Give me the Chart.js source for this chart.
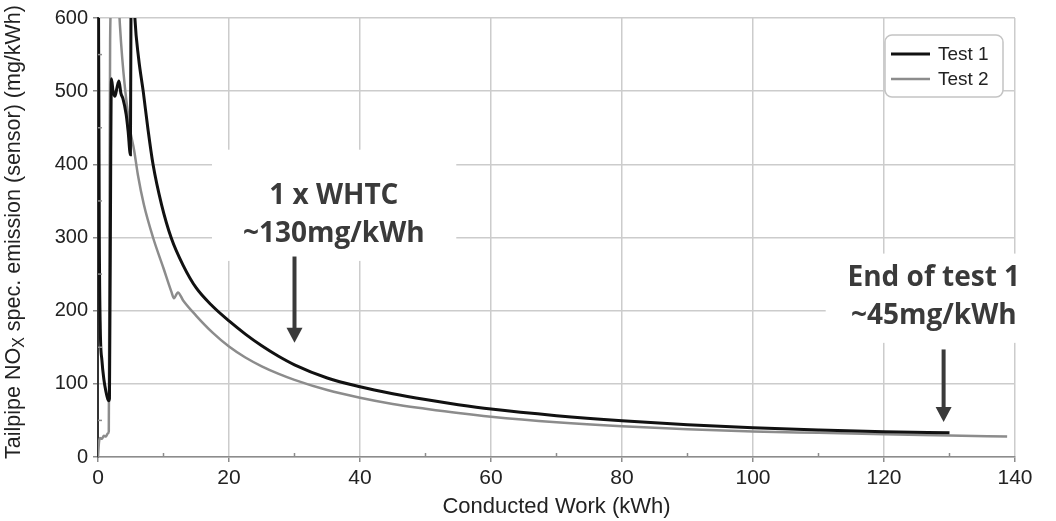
<!DOCTYPE html>
<html>
<head>
<meta charset="utf-8">
<script src="https://cdn.jsdelivr.net/npm/chart.js@4.4.1/dist/chart.umd.min.js"></script>
<style>
  html, body { margin: 0; padding: 0; background: #fff; }
  #wrap { width: 1056px; height: 521px; }
</style>
</head>
<body>
<div id="wrap"><canvas id="noxChart" width="1056" height="521"></canvas></div>
<script>
// values
const test1Work = [0.05, 0.2, 0.35, 0.6, 0.9, 1.2, 1.5, 1.62, 1.75, 1.95, 2.05, 2.3, 2.6, 2.9, 3.2, 3.5, 3.8, 4.3, 4.6, 4.95,
                   5.05, 5.3, 5.6, 6.2, 6.9, 7.6, 8.4, 9.7, 11.2, 13, 15, 17.5, 20, 22.5, 25, 27.5, 30, 35, 40, 45,
                   50, 55, 60, 70, 80, 90, 100, 110, 120, 130];
const test1NOx  = [700, 300, 175, 132, 106, 90, 79, 77, 80, 420, 517, 500, 493, 505, 514, 497, 490, 468, 445, 413,
                   640, 680, 605, 545, 500, 450, 400, 345, 299, 262, 231, 206, 186, 168, 152, 138, 126, 108, 96, 86.5,
                   78.5, 71.5, 65.5, 56.5, 49.5, 44, 40, 37, 34.5, 33];

const test2Work = [0, 0.15, 0.3, 0.6, 0.9, 1.2, 1.5, 1.65, 1.75, 1.85, 2.1, 2.6, 3.0, 3.35, 3.7, 4.1, 4.5, 4.9, 5.5, 6.1,
                   7.0, 8.4, 10, 11.2, 11.6, 12.2, 13, 15, 17.5, 20, 22.5, 25, 27.5, 30, 35, 40, 45, 50, 55, 60,
                   70, 80, 90, 100, 110, 120, 130, 138.8];
const test2NOx  = [0, 20, 26, 25, 29, 28, 32, 35, 300, 570, 640, 680, 650, 590, 545, 506, 475, 447, 420, 385,
                   345, 300, 258, 226, 217, 225, 214, 193, 170, 151, 136, 124, 114, 105.5, 91.5, 81, 72.5, 66, 60, 55,
                   47.5, 42, 38, 35, 33, 31, 29.5, 28];

const seriesNames = ['Test 1', 'Test 2'];
const xTicks = [0, 20, 40, 60, 80, 100, 120, 140];
const yTicks = [0, 100, 200, 300, 400, 500, 600];

const FONT = "'Liberation Sans', Arial, sans-serif";
const NOTE_FONT = "bold 28px 'Open Sans', sans-serif";
const NOTE_COLOR = '#3a3a3a';

function toPoints(xs, ys) {
    return xs.map((x, i) => ({ x: x, y: ys[i] }));
}

// callouts, positioned in data units
const notes = [
    { lines: ['1 x WHTC', '~130mg/kWh'], x: 36, y: [356, 305], box: [17.4, 54.7, 420, 268], arrow: [30, 274, 156] },
    { lines: ['End of test 1', '~45mg/kWh'], x: 127.6, y: [244, 193], box: [111.1, 143.6, 278, 156], arrow: [129.1, 147, 48] }
];

const calloutPlugin = {
    id: 'callouts',
    beforeDatasetsDraw(chart) {
        const ctx = chart.ctx, xs = chart.scales.x, ys = chart.scales.y;
        ctx.save();
        ctx.fillStyle = '#ffffff';
        notes.forEach(n => {
            const l = xs.getPixelForValue(n.box[0]), r = xs.getPixelForValue(n.box[1]);
            const t = ys.getPixelForValue(n.box[2]), b = ys.getPixelForValue(n.box[3]);
            ctx.fillRect(l, t, r - l, b - t);
        });
        ctx.restore();
    },
    afterDatasetsDraw(chart) {
        const ctx = chart.ctx, xs = chart.scales.x, ys = chart.scales.y;
        const area = chart.chartArea;
        ctx.save();

        // minor tick marks
        ctx.strokeStyle = '#8c8c8c';
        ctx.lineWidth = 1.5;
        for (let v = 10; v < 140; v += 20) {
            const px = xs.getPixelForValue(v);
            ctx.beginPath(); ctx.moveTo(px, area.bottom); ctx.lineTo(px, area.bottom - 4); ctx.stroke();
        }
        for (let v = 50; v < 600; v += 100) {
            const py = ys.getPixelForValue(v);
            ctx.beginPath(); ctx.moveTo(area.left, py); ctx.lineTo(area.left + 4, py); ctx.stroke();
        }

        // callout text and arrows
        ctx.font = NOTE_FONT;
        ctx.fillStyle = NOTE_COLOR;
        ctx.strokeStyle = NOTE_COLOR;
        ctx.textAlign = 'center';
        ctx.textBaseline = 'middle';
        notes.forEach(n => {
            const cx = xs.getPixelForValue(n.x);
            n.lines.forEach((s, i) => ctx.fillText(s, cx, ys.getPixelForValue(n.y[i])));
            const ax = xs.getPixelForValue(n.arrow[0]);
            const y0 = ys.getPixelForValue(n.arrow[1]);
            const y1 = ys.getPixelForValue(n.arrow[2]);
            ctx.lineWidth = 4;
            ctx.beginPath(); ctx.moveTo(ax, y0); ctx.lineTo(ax, y1 - 14); ctx.stroke();
            ctx.beginPath();
            ctx.moveTo(ax - 8, y1 - 15);
            ctx.lineTo(ax + 8, y1 - 15);
            ctx.lineTo(ax, y1);
            ctx.closePath();
            ctx.fill();
        });

        // legend box
        const lx = 885, ly = 35, lw = 118, lh = 62;
        ctx.fillStyle = '#ffffff';
        ctx.strokeStyle = '#c4c4c4';
        ctx.lineWidth = 1.5;
        ctx.beginPath();
        ctx.roundRect(lx, ly, lw, lh, 7);
        ctx.fill();
        ctx.stroke();
        ctx.font = '19px ' + FONT;
        ctx.textAlign = 'left';
        ctx.fillStyle = '#222';
        chart.data.datasets.forEach((ds, i) => {
            const yy = ly + 19 + i * 25;
            ctx.strokeStyle = ds.borderColor;
            ctx.lineWidth = ds.borderWidth;
            ctx.beginPath(); ctx.moveTo(lx + 6, yy); ctx.lineTo(lx + 45, yy); ctx.stroke();
            ctx.fillText(ds.label, lx + 53, yy + 1);
        });
        ctx.restore();
    },
    afterDraw(chart) {
        // y-axis title with subscript X
        const ctx = chart.ctx;
        const p1 = 'Tailpipe NO', sub = 'X', p2 = ' spec. emission (sensor) (mg/kWh)';
        ctx.save();
        ctx.fillStyle = '#222';
        ctx.textBaseline = 'middle';
        ctx.translate(14, 232);
        ctx.rotate(-Math.PI / 2);
        ctx.font = '21.5px ' + FONT;
        const w1 = ctx.measureText(p1).width, w2 = ctx.measureText(p2).width;
        ctx.font = '16px ' + FONT;
        const ws = ctx.measureText(sub).width;
        let x = -(w1 + ws + w2) / 2;
        ctx.font = '21.5px ' + FONT;
        ctx.fillText(p1, x, 0);
        x += w1;
        ctx.font = '16px ' + FONT;
        ctx.fillText(sub, x, 6);
        x += ws;
        ctx.font = '21.5px ' + FONT;
        ctx.fillText(p2, x, 0);
        ctx.restore();
    }
};

const ctx = document.getElementById('noxChart').getContext('2d');
new Chart(ctx, {
    type: 'line',
    data: {
        datasets: [{
            label: seriesNames[0],
            data: toPoints(test1Work, test1NOx),
            borderColor: '#111111',
            borderWidth: 3,
            pointRadius: 0,
            cubicInterpolationMode: 'monotone',
            fill: false
        }, {
            label: seriesNames[1],
            data: toPoints(test2Work, test2NOx),
            borderColor: '#8c8c8c',
            borderWidth: 2.5,
            pointRadius: 0,
            cubicInterpolationMode: 'monotone',
            fill: false
        }]
    },
    options: {
        responsive: false,
        animation: false,
        devicePixelRatio: 1,
        layout: { padding: { top: 18, right: 41, left: 0, bottom: 0 } },
        plugins: {
            legend: { display: false },
            tooltip: { enabled: false }
        },
        scales: {
            x: {
                type: 'linear',
                min: 0,
                max: 140,
                afterBuildTicks: s => { s.ticks = xTicks.map(v => ({ value: v })); },
                afterFit: s => { s.height = 64; },
                ticks: {
                    autoSkip: false,
                    maxRotation: 0,
                    padding: 4,
                    color: '#222',
                    font: { family: FONT, size: 21 }
                },
                grid: { color: '#cccccc', lineWidth: 1.5, tickLength: 5, tickColor: '#8c8c8c' },
                border: { color: '#8c8c8c', width: 1.5 },
                title: {
                    display: true,
                    text: 'Conducted Work (kWh)',
                    color: '#222',
                    font: { family: FONT, size: 22 },
                    padding: { top: 2, bottom: 1 }
                }
            },
            y: {
                min: 0,
                max: 600,
                afterBuildTicks: s => { s.ticks = yTicks.map(v => ({ value: v })); },
                afterFit: s => { s.width = 98; },
                ticks: {
                    padding: 5,
                    color: '#222',
                    font: { family: FONT, size: 20 }
                },
                grid: { color: '#cccccc', lineWidth: 1.5, tickLength: 5, tickColor: '#8c8c8c' },
                border: { color: '#333333', width: 2 }
            }
        }
    },
    plugins: [calloutPlugin]
});
</script>
</body>
</html>
